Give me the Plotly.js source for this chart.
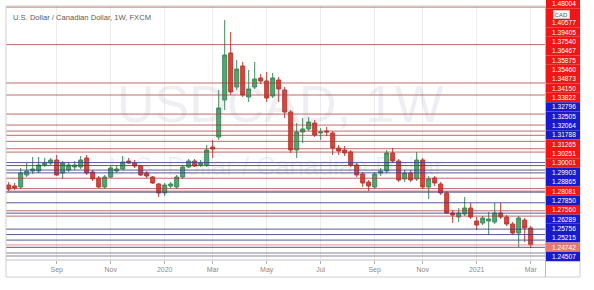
<!DOCTYPE html>
<html>
<head>
<meta charset="utf-8">
<script src="https://cdn.plot.ly/plotly-3.0.1.min.js"></script>
<style>html,body{margin:0;padding:0;background:#fff;}#chart{width:594px;height:290px;}</style>
</head>
<body>
<div id="chart"></div>
<script>
// Weekly USD/CAD candles (FXCM), first bar week of 2019-07-07
const firstWeek = '2019-07-07';
const open = [1.30603,1.30505,1.30407,1.31581,1.31972,1.31972,1.32559,1.32755,1.33048,1.31777,
1.32070,1.32364,1.32364,1.33244,1.31874,1.31288,1.30407,1.31385,1.31972,1.32168,
1.32950,1.32755,1.32461,1.31777,1.31385,1.30701,1.29821,1.30505,1.30407,1.31385,
1.32364,1.32950,1.32559,1.32559,1.34319,1.35297,1.38916,1.43513,1.40187,1.42241,
1.39209,1.40187,1.41068,1.40774,1.39307,1.40872,1.39894,1.37742,1.34026,1.35786,
1.36080,1.36667,1.35689,1.35884,1.35689,1.34222,1.34026,1.33831,1.32559,1.31679,
1.30896,1.30407,1.31777,1.31972,1.33733,1.32950,1.31190,1.31777,1.31190,1.33048,
1.30407,1.31288,1.30701,1.29821,1.27864,1.27473,1.27767,1.28354,1.27082,1.26887,
1.27082,1.26984,1.27864,1.27473,1.26789,1.25909,1.27180,1.26398];
const high = [1.30896,1.30799,1.32266,1.32755,1.33342,1.33342,1.33244,1.33244,1.33537,1.32950,
1.32853,1.32950,1.33440,1.33537,1.32070,1.31483,1.31581,1.32461,1.32461,1.33440,
1.33244,1.33048,1.32559,1.31972,1.31483,1.30799,1.30799,1.30896,1.31581,1.32559,
1.33146,1.33146,1.33048,1.34515,1.35004,1.39894,1.46740,1.45566,1.42828,1.42632,
1.41850,1.42632,1.41459,1.41654,1.41557,1.41165,1.40187,1.37938,1.36667,1.37156,
1.37253,1.36960,1.36178,1.36276,1.35884,1.34515,1.34417,1.34026,1.32755,1.31874,
1.31092,1.31874,1.32266,1.34026,1.34222,1.33146,1.32070,1.32070,1.33831,1.33244,
1.31483,1.31483,1.30896,1.30016,1.28158,1.28354,1.29429,1.28843,1.27473,1.27571,
1.27962,1.28843,1.28843,1.27669,1.26984,1.27571,1.27376,1.26593];
const low = [1.30016,1.30114,1.30212,1.31385,1.31679,1.31777,1.32364,1.32559,1.31483,1.31190,
1.31874,1.32070,1.32168,1.31581,1.30994,1.30310,1.30212,1.31288,1.31777,1.32070,
1.32657,1.32266,1.31483,1.31288,1.30701,1.29429,1.29527,1.30310,1.30212,1.31190,
1.32266,1.32364,1.32364,1.32364,1.33244,1.35004,1.37938,1.39405,1.39894,1.39209,
1.38721,1.39992,1.40481,1.38721,1.39112,1.38721,1.37156,1.33733,1.33244,1.34711,
1.35884,1.35297,1.35004,1.35395,1.33537,1.33537,1.33440,1.32364,1.31385,1.30407,
1.30016,1.30212,1.31483,1.31777,1.32755,1.30896,1.30896,1.30896,1.30994,1.30212,
1.29234,1.30505,1.29625,1.27767,1.26887,1.26984,1.27571,1.27278,1.26202,1.26691,
1.25713,1.26789,1.27278,1.26593,1.25713,1.24539,1.25029,1.24441];
const close = [1.30212,1.30310,1.31777,1.31972,1.32168,1.32559,1.32755,1.33048,1.31581,1.32755,
1.32559,1.32559,1.33048,1.31777,1.31190,1.30407,1.31385,1.32266,1.32168,1.32853,
1.32755,1.32461,1.31581,1.31483,1.30799,1.29821,1.30603,1.30701,1.31385,1.32364,
1.32950,1.32461,1.32755,1.34026,1.34124,1.38134,1.43317,1.39698,1.41948,1.39405,
1.39992,1.40970,1.40774,1.39112,1.41068,1.39992,1.37742,1.34026,1.35786,1.36080,
1.36764,1.35493,1.35786,1.35786,1.34222,1.33928,1.33733,1.32559,1.31581,1.30799,
1.30505,1.31679,1.31972,1.33733,1.32950,1.31092,1.31777,1.31092,1.33048,1.30407,
1.31190,1.30799,1.29821,1.27864,1.27669,1.27864,1.28354,1.27473,1.26691,1.27376,
1.27278,1.27864,1.27473,1.26789,1.25909,1.27376,1.26398,1.24742];

// Horizontal levels and their right-scale labels (top to bottom)
const levelPrices = [1.48004,1.44334,1.40577,1.39405,1.37540,1.36467,1.35875,1.35460,1.34873,1.34150,
1.33822,1.32796,1.32505,1.32064,1.31788,1.31265,1.30251,1.30001,1.29903,1.28865,
1.28081,1.27850,1.27560,1.26289,1.25756,1.25215,1.24742,1.24507];
const levelKinds = ['r','r','r','r','r','r','r','r','r','r',
'r','b','b','b','b','r','r','r','b','b',
'r','b','r','b','b','b','c','b'];
const extraLevels = [1.23953,1.23659];
// index of the label hidden under the currency tag
const hiddenLabel = 1;

const tickDates = ['2019-09-01','2019-11-03','2020-01-05','2020-03-01','2020-05-03','2020-07-05','2020-09-06','2020-11-01','2021-01-03','2021-03-07'];
const tickText = ['Sep','Nov','2020','Mar','May','Jul','Sep','Nov','2021','Mar'];

const titleText = 'U.S. Dollar / Canadian Dollar, 1W, FXCM';
const watermark1 = 'USDCAD, 1W';
const watermark2 = 'U.S. Dollar / Canadian Dollar';
const unitLabel = 'CAD';

// ---- build ----
const DAY = 864e5;
const t0 = Date.parse(firstWeek + 'T00:00:00Z');
const fmt = ms => new Date(ms).toISOString().slice(0,16).replace('T',' ');
const dates = open.map((_, i) => fmt(t0 + i*7*DAY).slice(0,10));

const W = 594, H = 290, L = 6, R = 545, T = 6, B = 260;
const pw = R - L, ph = B - T;
const px2x = p => (p - L) / pw;
const px2y = p => (B - p) / ph;

const lineCol = {r:'rgba(175,55,55,0.75)', b:'rgba(60,60,135,0.85)', c:'rgba(225,125,115,0.9)'};
const boxCol = {r:'rgb(240,22,22)', b:'rgb(26,26,205)', c:'rgb(228,122,108)'};

const shapes = [];
const annotations = [];

levelPrices.forEach((p, k) => {
  shapes.push({type:'line', xref:'paper', yref:'y', x0:0, x1:1, y0:p, y1:p,
    line:{color:lineCol[levelKinds[k]], width:1}, layer:'above'});
});
extraLevels.forEach(p => {
  shapes.push({type:'line', xref:'paper', yref:'y', x0:0, x1:1, y0:p, y1:p,
    line:{color:'rgba(150,150,175,0.8)', width:1.6}, layer:'above'});
});

// frame and separators
shapes.push({type:'rect', xref:'paper', yref:'paper', x0:0, x1:px2x(580), y0:px2y(277), y1:1,
  line:{color:'#cfcfcf', width:1}, fillcolor:'rgba(0,0,0,0)', layer:'above'});
shapes.push({type:'line', xref:'paper', yref:'paper', x0:px2x(545.5), x1:px2x(545.5), y0:px2y(277), y1:1,
  line:{color:'#b8b8b8', width:1}, layer:'above'});
shapes.push({type:'line', xref:'paper', yref:'paper', x0:0, x1:px2x(580), y0:0, y1:0,
  line:{color:'#c4c4c4', width:1}, layer:'above'});

// stacked price labels
const step = 9.354, firstCenter = 3.95;
levelPrices.forEach((p, k) => {
  const yc = firstCenter + step*k;
  shapes.push({type:'rect', xref:'paper', yref:'paper', x0:px2x(546), x1:px2x(580),
    y0:px2y(yc + step/2), y1:px2y(yc - step/2), line:{width:0},
    fillcolor:boxCol[levelKinds[k]], layer:'above'});
  if (k === hiddenLabel) return;
  annotations.push({xref:'paper', yref:'paper', x:px2x(564), y:px2y(yc), xanchor:'center', yanchor:'middle',
    text:p.toFixed(5), showarrow:false, font:{family:'Liberation Sans, Arial, sans-serif', size:6.6, color:'#ffffff'}});
});
annotations.push({xref:'paper', yref:'paper', x:px2x(561), y:px2y(14.5), xanchor:'center', yanchor:'middle',
  text:unitLabel, showarrow:false, bgcolor:'#f3f3f3', bordercolor:'#c8c8c8', borderwidth:0.6, borderpad:1,
  font:{family:'Liberation Sans, Arial, sans-serif', size:6, color:'#666'}});

// watermark
annotations.push({xref:'paper', yref:'paper', x:px2x(280), y:px2y(104), xanchor:'center', yanchor:'middle',
  text:watermark1, showarrow:false, font:{family:'Liberation Sans, Arial, sans-serif', size:52, color:'rgba(120,125,160,0.13)'}});
annotations.push({xref:'paper', yref:'paper', x:px2x(276), y:px2y(166), xanchor:'center', yanchor:'middle',
  text:watermark2, showarrow:false, font:{family:'Liberation Sans, Arial, sans-serif', size:26, color:'rgba(120,125,160,0.13)'}});
// title
annotations.push({xref:'paper', yref:'paper', x:px2x(11), y:px2y(17), xanchor:'left', yanchor:'middle',
  text:titleText, showarrow:false, font:{family:'Liberation Sans, Arial, sans-serif', size:7.6, color:'#5a5a5a'}});

const trace = {
  type:'candlestick', x:dates, open:open, high:high, low:low, close:close,
  increasing:{line:{color:'#3d8a5c', width:1}, fillcolor:'#55a472'},
  decreasing:{line:{color:'#b83a32', width:1}, fillcolor:'#d6463c'},
  whiskerwidth:0, hoverinfo:'skip', showlegend:false
};

const layout = {
  width:W, height:H,
  margin:{l:L, r:W-R, t:T, b:H-B, pad:0},
  paper_bgcolor:'#ffffff', plot_bgcolor:'#ffffff',
  showlegend:false,
  boxgap:0.05, boxgroupgap:0.3,
  xaxis:{type:'date', range:[fmt(t0 - 3.15*DAY), fmt(t0 + 625.7*DAY)],
    rangeslider:{visible:false}, fixedrange:true,
    tickmode:'array', tickvals:tickDates, ticktext:tickText,
    showgrid:true, gridcolor:'#ececec', gridwidth:1,
    ticks:'outside', ticklen:3, tickcolor:'#b0b0b0', tickwidth:1,
    tickfont:{family:'Liberation Sans, Arial, sans-serif', size:7, color:'#8a8a8a'},
    showline:false, zeroline:false},
  yaxis:{range:[1.23268, 1.48109], fixedrange:true, showticklabels:false,
    showgrid:false, zeroline:false, showline:false, ticks:''},
  shapes:shapes, annotations:annotations
};

Plotly.newPlot('chart', [trace], layout, {displayModeBar:false, staticPlot:true});
</script>
</body>
</html>
